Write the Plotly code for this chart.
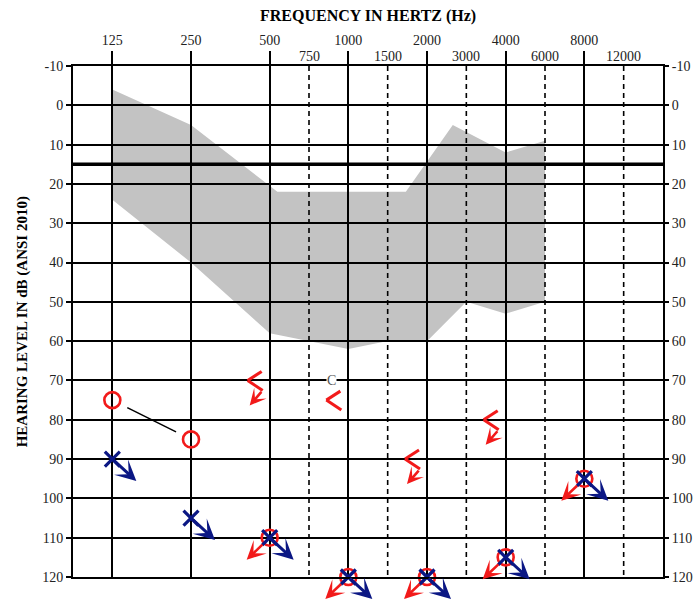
import math
import plotly.graph_objects as go

# ---------------- data ----------------
octave_freqs = [125, 250, 500, 1000, 2000, 4000, 8000]
octave_labels = ["125", "250", "500", "1000", "2000", "4000", "8000"]
half_freqs = [750, 1500, 3000, 6000, 12000]
half_labels = ["750", "1500", "3000", "6000", "12000"]
db_ticks = list(range(-10, 121, 10))
db_labels = [str(v) for v in db_ticks]

# speech area (grey "banana")
banana_upper_freq = [125, 250, 535, 1660, 2510, 4000, 6000]
banana_upper_db = [-4, 5, 22, 22, 5, 12, 9]
banana_lower_freq = [125, 250, 500, 1000, 1400, 2000, 3000, 4000, 6000]
banana_lower_db = [24, 40, 58, 62, 60, 60, 50, 53, 50]

# right ear air conduction (O)
right_air_freq = [125, 250, 500, 1000, 2000, 4000, 8000]
right_air_db = [75, 85, 110, 120, 120, 115, 95]
right_air_nr = [False, False, True, True, True, True, True]

# left ear air conduction (X)
left_air_freq = [125, 250, 500, 1000, 2000, 4000, 8000]
left_air_db = [90, 105, 110, 120, 120, 115, 95]
left_air_nr = [True, True, True, True, True, True, True]

# right bone conduction (<)
bone_freq = [500, 1000, 2000, 4000]
bone_db = [70, 75, 90, 80]
bone_nr = [True, False, True, True]

note_text = "C"
note_freq = 1000
note_db = 70

speech_limit_db = 15

RED = "#f21a1a"
BLUE = "#0b1784"
GREY = "#c3c3c3"
FONT = "Liberation Serif"


def pos(f):
    """Audiogram x-position: octaves above 125 Hz, half-octave lines at midpoints."""
    if f in half_freqs:
        return math.floor(math.log2(f / 125)) + 0.5
    return math.log2(f / 125)


fig = go.Figure()

# connecting line between the two responding O symbols
resp = [(pos(f), d) for f, d, nr in zip(right_air_freq, right_air_db, right_air_nr) if not nr]
for (xa, ya), (xb, yb) in zip(resp[:-1], resp[1:]):
    t0, t1 = 0.19, 0.81
    fig.add_trace(go.Scatter(
        x=[xa + (xb - xa) * t0, xa + (xb - xa) * t1],
        y=[ya + (yb - ya) * t0, ya + (yb - ya) * t1],
        mode="lines", line=dict(color="black", width=1.5),
        hoverinfo="skip", showlegend=False))

# O symbols
fig.add_trace(go.Scatter(
    x=[pos(f) for f in right_air_freq], y=right_air_db, mode="markers",
    marker=dict(symbol="circle-open", size=16, color=RED, line=dict(color=RED, width=2.6)),
    cliponaxis=False, showlegend=False, hoverinfo="skip"))

# X symbols
fig.add_trace(go.Scatter(
    x=[pos(f) for f in left_air_freq], y=left_air_db, mode="markers",
    marker=dict(symbol="x-thin", size=15, color=BLUE, line=dict(color=BLUE, width=3.2)),
    cliponaxis=False, showlegend=False, hoverinfo="skip"))

# dummy trace for right axis
fig.add_trace(go.Scatter(x=[pos(125)], y=[75], yaxis="y2", mode="markers",
                         marker=dict(opacity=0), showlegend=False, hoverinfo="skip"))

shapes = []
# grey speech area
poly_x = [pos(f) for f in banana_upper_freq] + [pos(f) for f in banana_lower_freq[::-1]]
poly_y = banana_upper_db + banana_lower_db[::-1]
path = "M " + " L ".join(f"{x},{y}" for x, y in zip(poly_x, poly_y)) + " Z"
shapes.append(dict(type="path", xref="x", yref="y", path=path,
                   fillcolor=GREY, line=dict(width=0), layer="below"))
# dashed half-octave lines
for f in half_freqs:
    shapes.append(dict(type="line", xref="x", yref="y", x0=pos(f), x1=pos(f),
                       y0=-10, y1=120, layer="below",
                       line=dict(color="black", width=1.6, dash="5px,4px")))
# thick line
shapes.append(dict(type="line", xref="x", yref="y", x0=-0.5, x1=7,
                   y0=speech_limit_db, y1=speech_limit_db, layer="between",
                   line=dict(color="black", width=3.5)))
# bone conduction "<" chevrons
for f, d in zip(bone_freq, bone_db):
    for dx, dy in [(14, 9), (15, -10)]:
        shapes.append(dict(type="line", xref="x", yref="y",
                           xsizemode="pixel", ysizemode="pixel",
                           xanchor=pos(f), yanchor=d,
                           x0=-22, y0=0, x1=-22 + dx, y1=dy, layer="above",
                           line=dict(color=RED, width=3)))

annotations = []
arrow_common = dict(text="", showarrow=True, arrowhead=3, font=dict(size=1))
# no-response arrows
for f, d, nr in zip(right_air_freq, right_air_db, right_air_nr):
    if nr:
        annotations.append(dict(x=pos(f), y=d, xref="x", yref="y",
                                xshift=-23, yshift=-22, ax=23, ay=-22,
                                startstandoff=8, arrowcolor=RED, arrowwidth=2.6,
                                arrowsize=1.2, **arrow_common))
for f, d, nr in zip(left_air_freq, left_air_db, left_air_nr):
    if nr:
        annotations.append(dict(x=pos(f), y=d, xref="x", yref="y",
                                xshift=24, yshift=-22, ax=-24, ay=-22,
                                arrowcolor=BLUE, arrowwidth=3, arrowsize=1.15,
                                **arrow_common))
for f, d, nr in zip(bone_freq, bone_db, bone_nr):
    if nr:
        annotations.append(dict(x=pos(f), y=d, xref="x", yref="y",
                                xshift=-20, yshift=-25, ax=13, ay=-15,
                                arrowcolor=RED, arrowwidth=2.6, arrowsize=1.05,
                                **arrow_common))

# half-octave labels
for f, lab in zip(half_freqs, half_labels):
    annotations.append(dict(x=pos(f), y=1, xref="x", yref="paper", text=lab,
                            showarrow=False, yanchor="bottom", yshift=0,
                            font=dict(family=FONT, size=14, color="#222")))
# note "C"
annotations.append(dict(x=pos(note_freq), y=note_db, xref="x", yref="y", text=note_text,
                        showarrow=False, xshift=-17, bgcolor="white", borderpad=0,
                        font=dict(family=FONT, size=14, color="#555")))
# titles
annotations.append(dict(x=0.5, y=1.098, xref="paper", yref="paper",
                        xanchor="center", yanchor="middle",
                        text="<b>FREQUENCY IN HERTZ (Hz)</b>", showarrow=False,
                        font=dict(family=FONT, size=16, color="black")))
annotations.append(dict(x=-0.085, y=0.5, xref="paper", yref="paper",
                        xanchor="center", yanchor="middle",
                        text="<b>HEARING LEVEL IN dB (ANSI 2010)</b>", showarrow=False,
                        textangle=-90,
                        font=dict(family=FONT, size=15, color="black")))

tickfont = dict(family=FONT, size=14, color="#222")
fig.update_layout(
    width=695, height=601,
    margin=dict(l=73, r=32, t=66, b=24, autoexpand=False),
    paper_bgcolor="white", plot_bgcolor="white",
    showlegend=False,
    shapes=shapes, annotations=annotations,
    xaxis=dict(range=[-0.5, 7], side="top", automargin=False,
               tickvals=[pos(f) for f in octave_freqs], ticktext=octave_labels,
               ticks="outside", ticklen=13, tickwidth=2, tickcolor="black",
               showgrid=True, gridcolor="black", gridwidth=1.8,
               showline=True, linecolor="black", linewidth=2, mirror=True,
               zeroline=False, tickfont=tickfont, fixedrange=True),
    yaxis=dict(range=[120, -10], tickvals=db_ticks, ticktext=db_labels, automargin=False,
               ticks="outside", ticklen=5, tickwidth=1.5, tickcolor="black",
               showgrid=True, gridcolor="black", gridwidth=1.8,
               showline=True, linecolor="black", linewidth=2, mirror=True,
               zeroline=False, tickfont=tickfont, fixedrange=True),
    yaxis2=dict(range=[120, -10], overlaying="y", side="right", automargin=False,
                tickvals=db_ticks, ticktext=db_labels,
                ticks="outside", ticklen=5, tickwidth=1.5, tickcolor="black",
                showgrid=False, showline=False, zeroline=False,
                tickfont=tickfont, fixedrange=True),
)

fig.write_html(
    "out.html",
    config={"displayModeBar": False},
    post_script="document.body.style.margin='0px';document.documentElement.style.overflow='hidden';",
)
